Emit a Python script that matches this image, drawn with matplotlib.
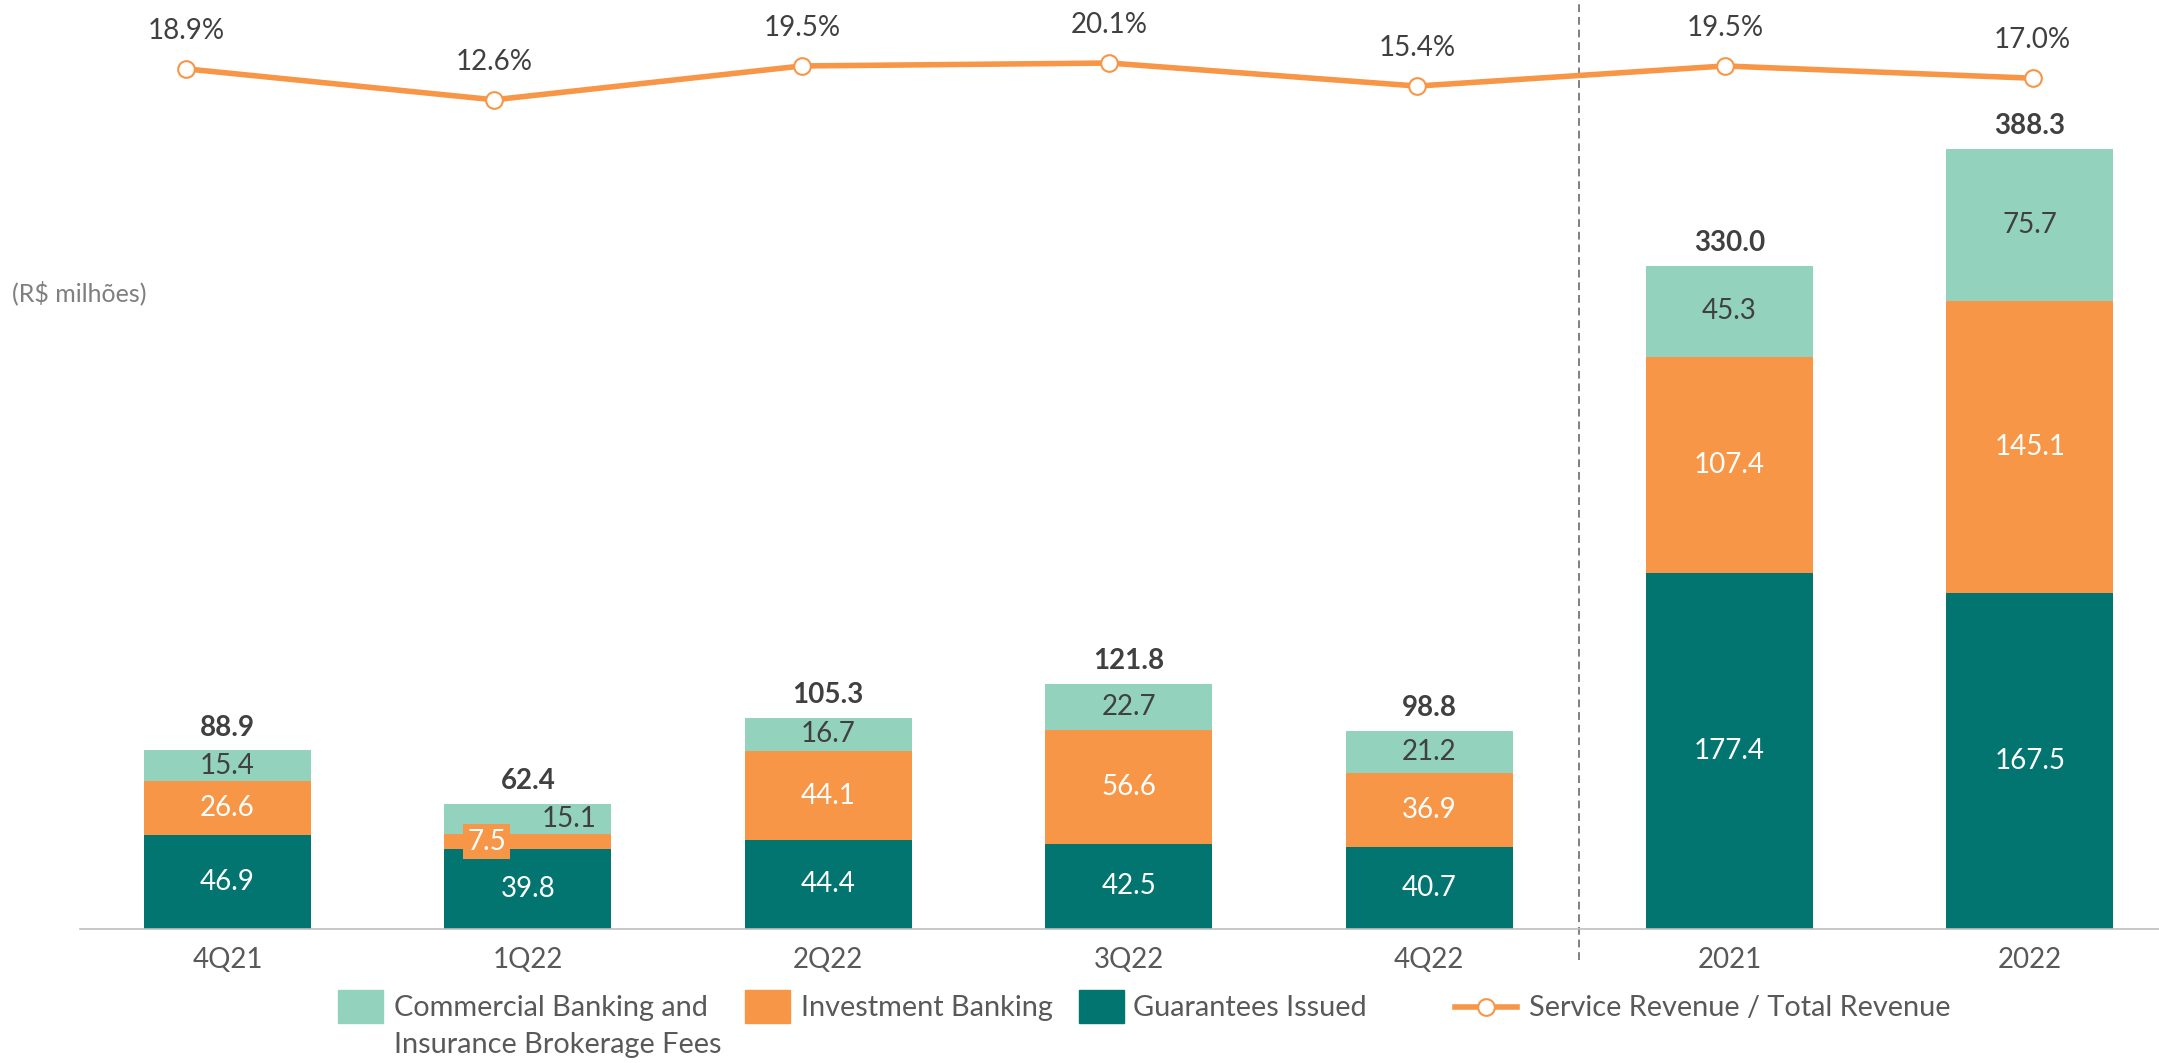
import matplotlib
matplotlib.use("Agg")
import matplotlib.pyplot as plt
import numpy as np
from matplotlib.patches import Rectangle
from matplotlib.lines import Line2D

plt.rcParams['font.family'] = ['Lato', 'DejaVu Sans']

periods = ['4Q21', '1Q22', '2Q22', '3Q22', '4Q22', '2021', '2022']
guarantees = [46.9, 39.8, 44.4, 42.5, 40.7, 177.4, 167.5]
investment = [26.6, 7.5, 44.1, 56.6, 36.9, 107.4, 145.1]
commercial = [15.4, 15.1, 16.7, 22.7, 21.2, 45.3, 75.7]
totals = [88.9, 62.4, 105.3, 121.8, 98.8, 330.0, 388.3]
ratio = [18.9, 12.6, 19.5, 20.1, 15.4, 19.5, 17.0]

TEAL = '#037570'
ORANGE = '#F79646'
MINT = '#93D3BD'
DARK = '#404040'
GRAY = '#595959'

W, H = 2159, 1063
fig = plt.figure(figsize=(W / 100, H / 100), dpi=100)

def fx(px):
    return px / W

def fy(py):
    return 1 - py / H

# main axes: left edge at x=80 px, baseline at y=929 px
ax = fig.add_axes([fx(80), fy(929), 1 - fx(80), 929 / H])
x = np.arange(len(periods))
width = 0.556

g = np.array(guarantees)
i_ = np.array(investment)
c = np.array(commercial)

ax.bar(x, g, width, color=TEAL)
ax.bar(x, i_, width, bottom=g, color=ORANGE)
ax.bar(x, c, width, bottom=g + i_, color=MINT)

ax.set_xlim(-0.491, 6.43)
ax.set_ylim(0, 462.5)

for k in range(len(periods)):
    y0 = g[k] / 2
    y1 = g[k] + i_[k] / 2
    y2 = g[k] + i_[k] + c[k] / 2
    ax.text(x[k], y0, f'{guarantees[k]:.1f}', ha='center', va='center',
            color='white', fontsize=20)
    if periods[k] == '1Q22':
        # small segment: labels pushed sideways like the original
        ax.text(x[k] - 0.138, y1, f'{investment[k]:.1f}', ha='center', va='center',
                color='white', fontsize=20,
                bbox=dict(boxstyle='square,pad=0.15', fc=ORANGE, ec='none'))
        ax.text(x[k] + 0.138, y2, f'{commercial[k]:.1f}', ha='center', va='center',
                color=DARK, fontsize=20)
    else:
        ax.text(x[k], y1, f'{investment[k]:.1f}', ha='center', va='center',
                color='white', fontsize=20)
        ax.text(x[k], y2, f'{commercial[k]:.1f}', ha='center', va='center',
                color=DARK, fontsize=20)
    top = g[k] + i_[k] + c[k]
    ax.annotate(f'{totals[k]:.1f}', (x[k], top), xytext=(0, 16.5),
                textcoords='offset points', ha='center', va='center',
                color=DARK, fontsize=20, fontweight='bold')

ax.set_xticks(x)
ax.set_xticklabels(periods, fontsize=20, color=GRAY)
ax.tick_params(axis='x', length=0, pad=13)
ax.set_yticks([])
for s in ['top', 'right', 'left']:
    ax.spines[s].set_visible(False)
ax.spines['bottom'].set_color('#BFBFBF')
ax.spines['bottom'].set_linewidth(1.2)

# separator between quarters and years
ax.axvline(4.5, ymin=-(960 - 929) / 929, ymax=1, color='#808080', lw=1.4,
           dashes=(4, 2.5), clip_on=False)

# ratio line on its own axes
ax2 = fig.add_axes(ax.get_position())
ax2.set_xlim(-0.3458, 6.411)
ax2.set_ylim(-156.6, 32.96)
ax2.axis('off')
ax2.plot(x, ratio, color=ORANGE, lw=4, marker='o', markersize=12,
         markerfacecolor='white', markeredgecolor=ORANGE, markeredgewidth=1.5,
         solid_capstyle='round')
for k in range(len(ratio)):
    ax2.annotate(f'{ratio[k]:.1f}%', (x[k], ratio[k]), xytext=(0, 27.4),
                 textcoords='offset points', ha='center', va='center',
                 color=DARK, fontsize=20)

fig.text(fx(12), fy(293), '(R$ milhões)', ha='left', va='center',
         color='#7F7F7F', fontsize=18)

# legend
LFS = 20.8
fig.add_artist(Rectangle((fx(338), fy(1023)), fx(45), 33 / H, color=MINT,
                         transform=fig.transFigure))
fig.text(fx(394), fy(1008), 'Commercial Banking and', ha='left', va='center',
         color=GRAY, fontsize=LFS)
fig.text(fx(394), fy(1045), 'Insurance Brokerage Fees', ha='left', va='center',
         color=GRAY, fontsize=LFS)
fig.add_artist(Rectangle((fx(745), fy(1023)), fx(45), 33 / H, color=ORANGE,
                         transform=fig.transFigure))
fig.text(fx(801), fy(1008), 'Investment Banking', ha='left', va='center',
         color=GRAY, fontsize=LFS)
fig.add_artist(Rectangle((fx(1079), fy(1023)), fx(45), 33 / H, color=TEAL,
                         transform=fig.transFigure))
fig.text(fx(1133), fy(1008), 'Guarantees Issued', ha='left', va='center',
         color=GRAY, fontsize=LFS)
fig.add_artist(Line2D([fx(1455), fx(1517)], [fy(1007), fy(1007)], color=ORANGE,
                      lw=4, transform=fig.transFigure))
fig.add_artist(Line2D([fx(1486)], [fy(1007)], marker='o', markersize=12,
                      markerfacecolor='white', markeredgecolor=ORANGE,
                      markeredgewidth=1.5, transform=fig.transFigure))
fig.text(fx(1529), fy(1008), 'Service Revenue / Total Revenue', ha='left',
         va='center', color=GRAY, fontsize=LFS)

fig.savefig('out.png', dpi=100)
